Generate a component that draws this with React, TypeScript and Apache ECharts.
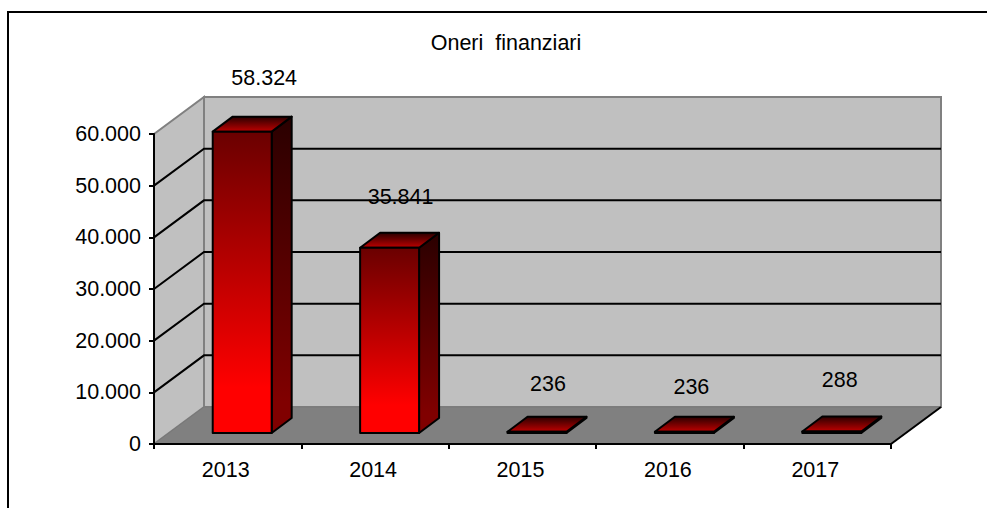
import React, { useEffect, useRef } from "react";
import * as echarts from "echarts";

const categories = ["2013", "2014", "2015", "2016", "2017"];
const values = [58324, 35841, 236, 236, 288];
const yTicks = [0, 10000, 20000, 30000, 40000, 50000, 60000];
const titleText = "Oneri  finanziari";

// Manual label placement, as in the reference (pixels from the bar's front-top centre)
const labelDx = [22, 11, 11, 7, 8];
const labelDy = [-54, -51, -48, -45, -52];

const FONT = "'Liberation Sans', Arial, sans-serif";
const FONT_SIZE = 21.5;
const FRONT = { left: 154, top: 134, width: 737, height: 310 };
const WALL_DX = 50;
const WALL_DY = -37;
const BAR_DX = 20;
const BAR_DY = -15;
const BAR_SHIFT_X = 14.5;
const BAR_SHIFT_Y = -11;

const fmt = (v: number) => String(v).replace(/\B(?=(\d{3})+$)/g, ".");
const grad = (top: string, bottom: string, stop = 1) =>
  new echarts.graphic.LinearGradient(0, 0, 0, 1, [
    { offset: 0, color: top },
    { offset: stop, color: bottom },
    { offset: 1, color: bottom },
  ]);

function renderWalls(params: any, api: any) {
  const cs = params.coordSys;
  const l = cs.x, r = cs.x + cs.width, b = cs.y + cs.height, t = cs.y;
  const children: any[] = [
    { type: "polygon", shape: { points: [[l, t], [l + WALL_DX, t + WALL_DY], [l + WALL_DX, b + WALL_DY], [l, b]] }, style: { fill: "#c0c0c0", stroke: "#808080", lineWidth: 2 } },
    { type: "rect", shape: { x: l + WALL_DX, y: t + WALL_DY, width: cs.width, height: cs.height }, style: { fill: "#c0c0c0", stroke: "#808080", lineWidth: 2 } },
    { type: "polygon", shape: { points: [[l, b], [l + WALL_DX, b + WALL_DY], [r + WALL_DX, b + WALL_DY], [r, b]] }, style: { fill: "#808080", stroke: "#787878", lineWidth: 1 } },
    { type: "line", shape: { x1: r, y1: b, x2: r + WALL_DX, y2: b + WALL_DY }, style: { stroke: "#000", lineWidth: 2 } },
  ];
  yTicks.forEach((v) => {
    if (v === 0 || v === yTicks[yTicks.length - 1]) return;
    const y = api.coord([0, v])[1];
    children.push({ type: "polyline", shape: { points: [[l, y], [l + WALL_DX, y + WALL_DY], [r + WALL_DX, y + WALL_DY]] }, style: { stroke: "#000", lineWidth: 2, fill: "none" } });
  });
  return { type: "group", children };
}

function renderBar(params: any, api: any) {
  const i = params.dataIndex;
  const v = api.value(1);
  const w = api.size([1, 0])[0] * 0.4;
  const c = api.coord([i, v]);
  const c0 = api.coord([i, 0]);
  const x1 = c[0] + BAR_SHIFT_X - w / 2;
  const x2 = x1 + w;
  const yt = c[1] + BAR_SHIFT_Y;
  const yb = c0[1] + BAR_SHIFT_Y;
  const edge = { stroke: "#000", lineWidth: 2, lineJoin: "round" };
  return {
    type: "group",
    children: [
      { type: "polygon", shape: { points: [[x2, yt], [x2 + BAR_DX, yt + BAR_DY], [x2 + BAR_DX, yb + BAR_DY], [x2, yb]] }, style: { fill: grad("#2a0000", "#800000", 0.9), ...edge } },
      { type: "polygon", shape: { points: [[x1, yt], [x1 + BAR_DX, yt + BAR_DY], [x2 + BAR_DX, yt + BAR_DY], [x2, yt]] }, style: { fill: grad("#2a0000", "#c00000"), ...edge } },
      { type: "rect", shape: { x: x1, y: yt, width: w, height: yb - yt }, style: { fill: grad("#6a0000", "#ff0000", 0.85), ...edge } },
      { type: "text", style: { text: fmt(v), x: c[0] + BAR_SHIFT_X + labelDx[i], y: yt + labelDy[i], font: `${FONT_SIZE}px ${FONT}`, fill: "#000", align: "center", verticalAlign: "middle" } },
    ],
  };
}

export default function App() {
  const ref = useRef<HTMLDivElement>(null);
  useEffect(() => {
    const chart = echarts.init(ref.current!, undefined, { renderer: "svg" });
    chart.setOption({
      animation: false,
      backgroundColor: "#fff",
      title: {
        text: titleText,
        left: 501,
        top: 38,
        textAlign: "center",
        textVerticalAlign: "middle",
        textStyle: { fontFamily: FONT, fontSize: FONT_SIZE, fontWeight: "normal", color: "#000" },
      },
      grid: { ...FRONT },
      xAxis: {
        type: "category",
        data: categories,
        z: 5,
        axisLine: { lineStyle: { color: "#000", width: 2 } },
        axisTick: { show: true, length: 5, alignWithLabel: false, lineStyle: { color: "#000", width: 2 } },
        axisLabel: { fontFamily: FONT, fontSize: FONT_SIZE, color: "#000", margin: 15, padding: [0, 4, 0, 0] },
        splitLine: { show: false },
      },
      yAxis: {
        type: "value",
        min: 0,
        max: 60000,
        interval: 10000,
        z: 5,
        axisLine: { show: true, lineStyle: { color: "#000", width: 2 } },
        axisTick: { show: true, length: 5, lineStyle: { color: "#000", width: 2 } },
        axisLabel: { fontFamily: FONT, fontSize: FONT_SIZE, color: "#000", margin: 13, formatter: (v: number) => fmt(v) },
        splitLine: { show: false },
      },
      series: [
        { type: "custom", coordinateSystem: "cartesian2d", clip: false, silent: true, z: 1, renderItem: renderWalls, data: [[0, 0]] },
        { type: "custom", coordinateSystem: "cartesian2d", clip: false, silent: true, z: 6, renderItem: renderBar, encode: { x: 0, y: 1 }, data: values.map((v, i) => [i, v]) },
      ],
      graphic: [
        { type: "rect", z: 100, silent: true, shape: { x: 8, y: 12, width: 1100, height: 600 }, style: { fill: "none", stroke: "#000", lineWidth: 2 } },
      ],
    });
    return () => chart.dispose();
  }, []);
  return <div ref={ref} style={{ position: "absolute", left: 0, top: 0, width: 987, height: 508 }} />;
}
